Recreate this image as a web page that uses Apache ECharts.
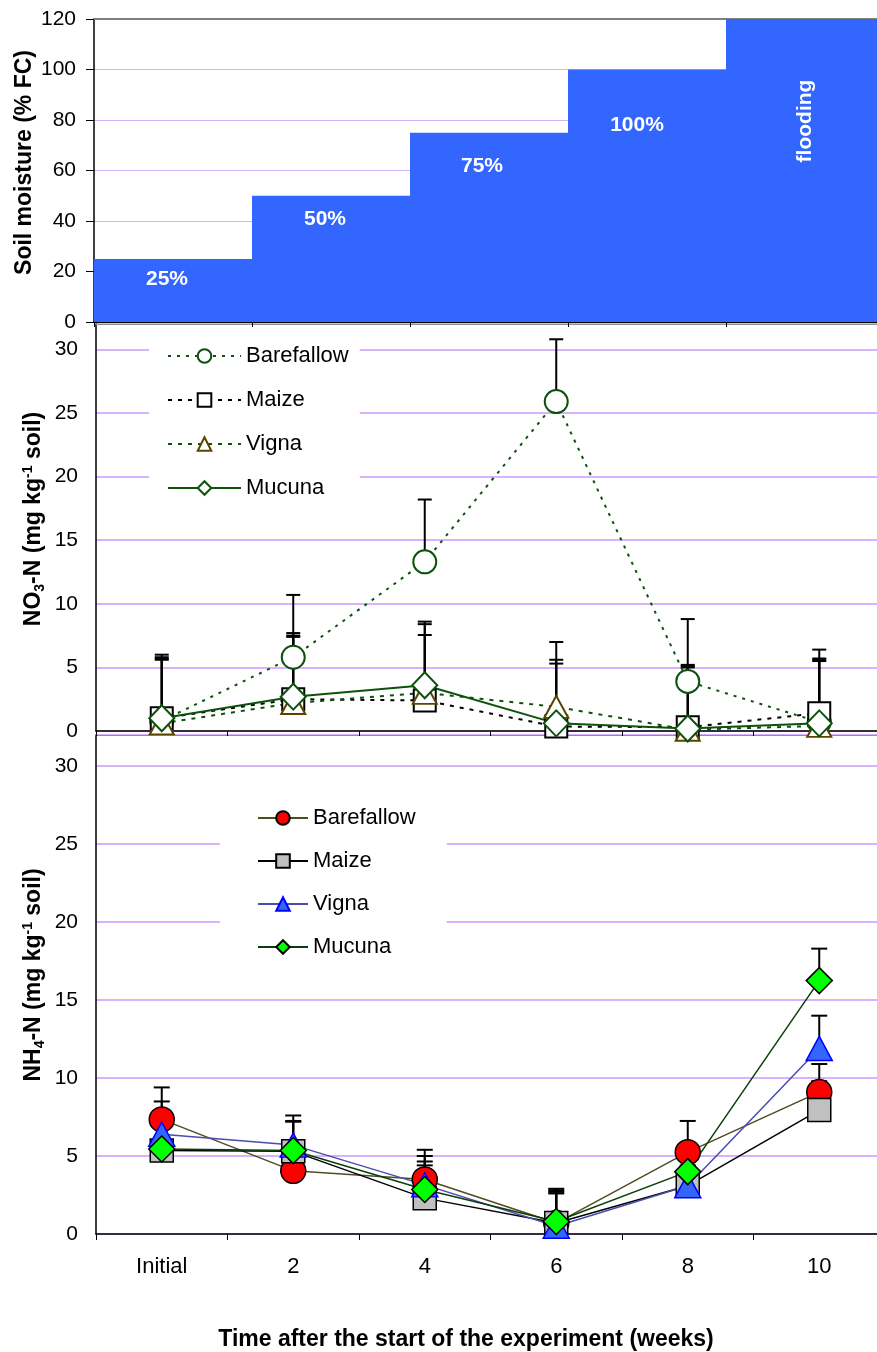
<!DOCTYPE html>
<html><head><meta charset="utf-8">
<script src="https://cdn.jsdelivr.net/npm/echarts@6/dist/echarts.min.js"></script>
<style>html,body{margin:0;padding:0;background:#fff}#c{width:877px;height:1352px}</style>
</head><body><div id="c"></div>
<script>
// ---------- data ----------
const moistureCats = ['0-2', '2-4', '4-6', '6-8', '8-10'];
const moistureValues = [25, 50, 75, 100, 120];
const moistureLabels = ['25%', '50%', '75%', '100%', 'flooding'];
const weekLabels = ['Initial', '2', '4', '6', '8', '10'];
const seriesNames = ['Barefallow', 'Maize', 'Vigna', 'Mucuna'];
const moistureTicks = [0, 20, 40, 60, 80, 100, 120];
const nTicks = [0, 5, 10, 15, 20, 25, 30];

const no3Barefallow = [0.8, 5.8, 13.3, 25.9, 3.9, 0.7];
const no3Maize      = [1.0, 2.5, 2.4, 0.35, 0.3, 1.4];
const no3Vigna      = [0.6, 2.2, 3.0, 1.9, 0.1, 0.4];
const no3Mucuna     = [1.0, 2.7, 3.6, 0.6, 0.2, 0.6];
const no3BarefallowErr = [5.2, 4.9, 4.9, 4.9, 4.9, 5.7];
const no3MaizeErr      = [4.8, 5.2, 6.2, 6.65, 4.9, 4.3];
const no3VignaErr      = [5.1, 5.3, 5.4, 3.7, 5.0, 5.2];
const no3MucunaErr     = [4.6, 4.7, 3.95, 4.7, 4.8, 4.9];

const nh4Barefallow = [7.35, 4.05, 3.5, 0.7, 5.25, 9.1];
const nh4Maize      = [5.35, 5.3, 2.3, 0.7, 3.1, 7.95];
const nh4Vigna      = [6.4, 5.7, 3.15, 0.5, 3.1, 11.9];
const nh4Mucuna     = [5.45, 5.35, 2.85, 0.8, 4.0, 16.25];
const nh4BarefallowErr = [2.05, 3.55, 1.9, 2.2, 2.0, 1.8];
const nh4MaizeErr      = [3.15, 1.95, 2.7, 2.1, 0.4, 1.85];
const nh4VignaErr      = [0.5, 1.5, 1.5, 2.2, 0.4, 2.1];
const nh4MucunaErr     = [0.5, 0.5, 1.55, 1.8, 0.4, 2.05];

// ---------- styling ----------
const F = '"Liberation Sans", Arial, Helvetica, sans-serif';
const DG = '#0b520b';
const PURPLE = '#cc99ff';

function errSeries(name, xi, yi, vals, errs, capHalf) {
  return {
    type: 'custom', name: name, xAxisIndex: xi, yAxisIndex: yi, z: 1, clip: false, silent: true,
    encode: { x: 0, y: 1 },
    data: vals.map((v, i) => [i, v, errs[i]]),
    renderItem: function (params, api) {
      const x = api.value(0), y = api.value(1), e = api.value(2);
      const p0 = api.coord([x, y]);
      const p1 = api.coord([x, y + e]);
      return {
        type: 'group', children: [
          { type: 'line', shape: { x1: p0[0], y1: p0[1], x2: p1[0], y2: p1[1] }, style: { stroke: '#000', lineWidth: 2 } },
          { type: 'line', shape: { x1: p1[0] - capHalf, y1: p1[1], x2: p1[0] + capHalf, y2: p1[1] }, style: { stroke: '#000', lineWidth: 2 } }
        ]
      };
    }
  };
}

function lineSeries(name, xi, yi, data, symbol, size, itemStyle, lineStyle) {
  return {
    type: 'line', name: name, xAxisIndex: xi, yAxisIndex: yi, data: data, z: 3, clip: false,
    symbol: symbol, symbolSize: size, showSymbol: true, showAllSymbol: true,
    itemStyle: itemStyle, lineStyle: lineStyle, emphasis: { disabled: true }, silent: true
  };
}

const barLabelStyles = [
  { position: 'insideTop', distance: 10, offset: [-6, 0] },
  { position: 'insideTop', distance: 13, offset: [-6, 0] },
  { position: 'insideTop', distance: 23, offset: [-7, 0] },
  { position: 'insideTop', distance: 45, offset: [-10, 0] },
  { position: 'insideTop', distance: 102, rotate: 90, align: 'center', verticalAlign: 'middle' }
];

const subRich = {
  b: { fontSize: 23, fontWeight: 'bold', fontFamily: F, color: '#000', lineHeight: 26 },
  sub: { fontSize: 14, fontWeight: 'bold', fontFamily: F, color: '#000', lineHeight: 14, verticalAlign: 'bottom' },
  sup: { fontSize: 14, fontWeight: 'bold', fontFamily: F, color: '#000', lineHeight: 14, verticalAlign: 'top' }
};

function yAxisLower(gi, name, padLeft) {
  return {
    gridIndex: gi, type: 'value', min: 0, max: 32, interval: 5,
    axisLine: { show: true, lineStyle: { color: '#000', width: 1.5 } },
    axisTick: { show: false },
    axisLabel: { fontSize: 21, fontFamily: F, color: '#000', margin: 18,
      formatter: v => (nTicks.indexOf(v) >= 0 ? String(v) : '') },
    splitLine: { show: true, lineStyle: { color: PURPLE, width: 1.5 } },
    name: name, nameLocation: 'middle', nameRotate: 90, nameGap: 49, nameMoveOverlap: false,
    nameTextStyle: { rich: subRich, padding: [0, 0, 0, padLeft] }
  };
}

function xAxisCat(gi, data, pos, opts) {
  return Object.assign({
    gridIndex: gi, type: 'category', data: data, position: pos, boundaryGap: true,
    axisLine: { onZero: false, lineStyle: { color: '#000', width: 1.5 } },
    axisTick: { show: pos === 'bottom', length: 5, lineStyle: { color: '#000', width: 1 } },
    axisLabel: { show: false }, splitLine: { show: false }
  }, opts || {});
}

const chart = echarts.init(document.getElementById('c'), null, { renderer: 'canvas' });

const option = {
  animation: false,
  backgroundColor: '#fff',
  grid: [
    { left: 94, top: 19, width: 790, height: 303, outerBoundsMode: 'none' },
    { left: 96, top: 324, width: 789, height: 407, outerBoundsMode: 'none' },
    { left: 96, top: 735, width: 789, height: 499, outerBoundsMode: 'none' }
  ],
  xAxis: [
    xAxisCat(0, moistureCats, 'bottom', { axisLine: { onZero: false, lineStyle: { color: '#000', width: 2 } } }),
    xAxisCat(0, moistureCats, 'top', { axisLine: { onZero: false, lineStyle: { color: '#808080', width: 2 } } }),
    xAxisCat(1, weekLabels, 'bottom'),
    xAxisCat(1, weekLabels, 'top', { axisLine: { onZero: false, lineStyle: { color: '#909090', width: 1 } } }),
    xAxisCat(2, weekLabels, 'bottom', {
      axisTick: { show: true, length: 6, lineStyle: { color: '#000', width: 1 } },
      axisLabel: { show: true, interval: 0, fontSize: 22, fontFamily: F, color: '#000', margin: 22 }
    }),
    xAxisCat(2, weekLabels, 'top', { axisLine: { onZero: false, lineStyle: { color: '#909090', width: 1 } } })
  ],
  yAxis: [
    {
      gridIndex: 0, type: 'value', min: 0, max: 120, interval: 20,
      axisLine: { show: true, lineStyle: { color: '#000', width: 1.5 } },
      axisTick: { show: true, length: 8, lineStyle: { color: '#000', width: 1 } },
      axisLabel: { fontSize: 21, fontFamily: F, color: '#000', margin: 18,
        formatter: v => (moistureTicks.indexOf(v) >= 0 ? String(v) : '') },
      splitLine: { show: true, lineStyle: { color: '#d4b0fb', width: 1 } },
      name: 'Soil moisture (% FC)', nameLocation: 'middle', nameRotate: 90, nameGap: 58, nameMoveOverlap: false,
      nameTextStyle: { fontSize: 23, fontWeight: 'bold', fontFamily: F, color: '#000', padding: [0, 0, 0, 16] }
    },
    yAxisLower(1, '{b|NO}{sub|3}{b|-N (mg kg}{sup|-1}{b| soil)}', 17),
    yAxisLower(2, '{b|NH}{sub|4}{b|-N (mg kg}{sup|-1}{b| soil)}', 19)
  ],
  legend: [
    {
      orient: 'vertical', left: 149, top: 335, padding: [10, 11, 20, 18], backgroundColor: '#fff',
      itemWidth: 73, itemHeight: 17, itemGap: 22, selectedMode: false, z: 5,
      data: seriesNames,
      textStyle: { fontSize: 22, fontFamily: F, color: '#000', lineHeight: 22 }
    },
    {
      orient: 'vertical', left: 220, top: 790, padding: [17, 31, 22, 37], backgroundColor: '#fff',
      itemWidth: 50, itemHeight: 17, itemGap: 21, selectedMode: false, z: 5,
      data: seriesNames.map(n => 'NH4 ' + n),
      formatter: n => n.replace('NH4 ', ''),
      textStyle: { fontSize: 22, fontFamily: F, color: '#000', lineHeight: 22 }
    }
  ],
  graphic: [
    {
      type: 'text', x: 466, y: 1340, silent: true,
      style: { text: 'Time after the start of the experiment (weeks)', font: 'bold 23px ' + F, fill: '#000', align: 'center', verticalAlign: 'middle' }
    }
  ],
  series: [
    {
      type: 'bar', name: 'moisture', xAxisIndex: 0, yAxisIndex: 0, barWidth: '100%', barCategoryGap: 0, z: 2, silent: true,
      itemStyle: { color: '#3366ff' },
      label: { show: true, color: '#fff', fontSize: 21, fontWeight: 'bold', fontFamily: F,
        formatter: p => moistureLabels[p.dataIndex] },
      data: moistureValues.map((v, i) => ({ value: v, label: barLabelStyles[i] }))
    },
    // NO3 panel
    errSeries('e1', 2, 1, no3Barefallow, no3BarefallowErr, 7),
    errSeries('e2', 2, 1, no3Maize, no3MaizeErr, 7),
    errSeries('e3', 2, 1, no3Vigna, no3VignaErr, 7),
    errSeries('e4', 2, 1, no3Mucuna, no3MucunaErr, 7),
    lineSeries('Barefallow', 2, 1, no3Barefallow, 'circle', 23,
      { color: '#fff', borderColor: DG, borderWidth: 2 }, { color: DG, width: 2, type: [3, 6] }),
    lineSeries('Maize', 2, 1, no3Maize, 'rect', 22,
      { color: '#fff', borderColor: '#000', borderWidth: 2 }, { color: '#000', width: 2, type: [4, 6] }),
    lineSeries('Vigna', 2, 1, no3Vigna, 'triangle', [24, 22],
      { color: '#fff', borderColor: '#5a4500', borderWidth: 2 }, { color: DG, width: 2, type: [4, 6] }),
    lineSeries('Mucuna', 2, 1, no3Mucuna, 'diamond', [25, 26],
      { color: '#fff', borderColor: DG, borderWidth: 2 }, { color: DG, width: 2, type: 'solid' }),
    // NH4 panel
    errSeries('f1', 4, 2, nh4Barefallow, nh4BarefallowErr, 8),
    errSeries('f2', 4, 2, nh4Maize, nh4MaizeErr, 8),
    errSeries('f3', 4, 2, nh4Vigna, nh4VignaErr, 8),
    errSeries('f4', 4, 2, nh4Mucuna, nh4MucunaErr, 8),
    lineSeries('NH4 Barefallow', 4, 2, nh4Barefallow, 'circle', 25,
      { color: '#ff0000', borderColor: '#000', borderWidth: 1.5 }, { color: '#4d4d1f', width: 1.5 }),
    lineSeries('NH4 Maize', 4, 2, nh4Maize, 'rect', 23,
      { color: '#c0c0c0', borderColor: '#000', borderWidth: 1.5 }, { color: '#000', width: 1.5 }),
    lineSeries('NH4 Vigna', 4, 2, nh4Vigna, 'triangle', [26, 24],
      { color: '#3366ff', borderColor: '#0000ff', borderWidth: 1.5 }, { color: '#4b4bb0', width: 1.5 }),
    lineSeries('NH4 Mucuna', 4, 2, nh4Mucuna, 'diamond', [26, 26],
      { color: '#00ff00', borderColor: '#000', borderWidth: 1.5 }, { color: '#0a3f0a', width: 1.5 })
  ]
};
chart.setOption(option);
</script>
</body></html>
